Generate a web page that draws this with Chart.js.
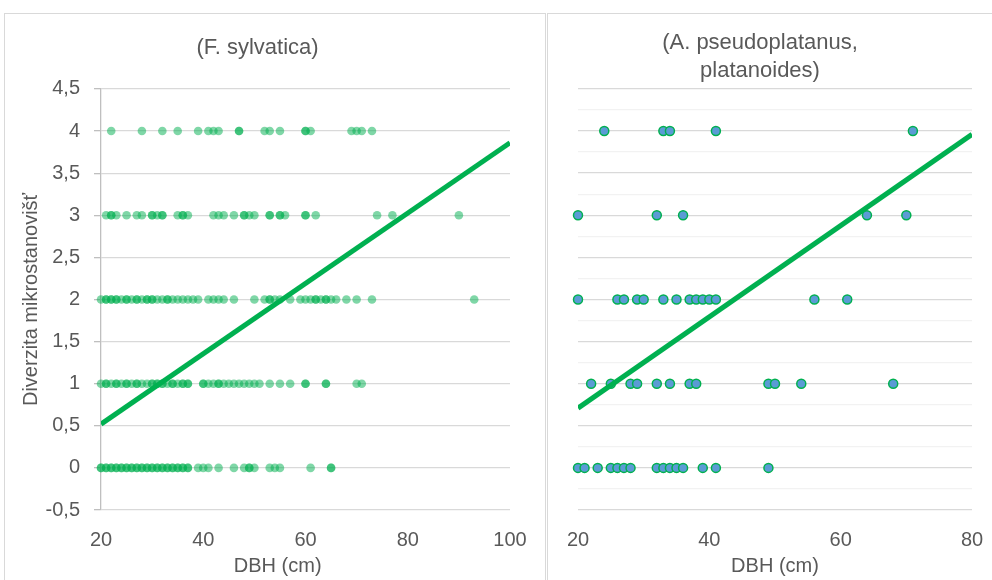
<!DOCTYPE html>
<html>
<head>
<meta charset="utf-8">
<script src="https://cdn.jsdelivr.net/npm/chart.js@4"></script>
<style>
  body { margin: 0; background: #fff; width: 992px; height: 580px; overflow: hidden; position: relative; }
  .panel { position: absolute; border: 1px solid #d9d9d9; box-sizing: border-box; }
  canvas { position: absolute; left: 0; top: 0; }
</style>
</head>
<body>
<div class="panel" style="left:4px;top:13px;width:542px;height:580px;">
  <canvas id="leftChart" width="540" height="566"></canvas>
</div>
<div class="panel" style="left:547px;top:13px;width:460px;height:580px;">
  <canvas id="rightChart" width="444" height="566"></canvas>
</div>
<script>
// F. sylvatica: DBH values per microhabitat diversity level
var beech0 = [20,20,21,21,22,22,23,23,24,24,25,25,26,26,27,27,28,28,29,29,30,30,31,31,32,32,33,33,34,34,35,35,36,36,37,37,39,40,41,43,46,48,49,49,50,53,54,55,61,65,65];
var beech1 = [20,21,21,22,23,23,24,25,25,26,27,27,28,29,30,30,31,31,32,32,33,34,34,35,36,36,37,37,40,40,41,42,43,43,44,45,46,47,48,49,50,51,53,55,57,60,60,64,64,70,71];
var beech2 = [20,21,21,22,22,23,23,24,25,25,26,27,27,28,29,29,30,30,31,32,33,33,34,35,36,37,38,39,41,42,43,44,46,50,52,53,53,54,55,57,59,60,61,62,62,63,64,64,65,66,68,70,73,93];
var beech3 = [21,22,22,23,25,27,28,30,30,31,32,32,35,36,36,37,42,43,44,46,48,48,49,50,53,53,55,55,56,60,60,62,74,77,90];
var beech4 = [22,28,32,35,39,41,42,43,47,47,52,53,55,60,60,61,69,70,71,73];

// A. pseudoplatanus, platanoides
var maple0 = [20,21,23,25,26,27,28,32,33,34,35,36,39,41,49];
var maple1 = [22,25,28,29,32,34,37,38,49,50,54,68];
var maple2 = [20,26,27,29,30,33,35,37,38,39,40,41,56,61];
var maple3 = [20,32,36,64,70];
var maple4 = [24,33,34,41,71];

// trend lines (x ends, y ends)
var beechTrendX = [20, 100];
var beechTrendY = [0.52, 3.86];
var mapleTrendX = [20, 80];
var mapleTrendY = [0.71, 3.96];

var yTicks = [-0.5, 0, 0.5, 1, 1.5, 2, 2.5, 3, 3.5, 4, 4.5];

Chart.defaults.font.family = "'Liberation Sans', Arial, sans-serif";
Chart.defaults.color = '#595959';

function levels(lists) {
    var pts = [];
    lists.forEach(function(list, lvl) {
        list.forEach(function(x) { pts.push({x: x, y: lvl}); });
    });
    return pts;
}
function trend(xs, ys) {
    return xs.map(function(x, i) { return {x: x, y: ys[i]}; });
}
function isMajor(v) { return yTicks.indexOf(v) >= 0; }

function makeChart(id, opts) {
    var ctx = document.getElementById(id);
    return new Chart(ctx, {
        type: 'scatter',
        data: {
            datasets: [{
                type: 'line',
                data: opts.trend,
                borderColor: '#00b050',
                borderWidth: 5,
                pointRadius: 0,
                order: 0
            }, {
                data: opts.points,
                backgroundColor: opts.pointBg,
                borderColor: opts.pointBorder,
                borderWidth: opts.pointBorderWidth,
                pointRadius: opts.radius,
                clip: false,
                order: 1
            }]
        },
        options: {
            responsive: false,
            animation: false,
            layout: { padding: { top: 0, right: opts.padRight, left: 0, bottom: 0 } },
            plugins: {
                legend: { display: false },
                tooltip: { enabled: false },
                title: {
                    display: true,
                    text: opts.title,
                    color: '#595959',
                    font: { size: 22, weight: 'normal', lineHeight: 1.27 },
                    padding: opts.titlePad
                }
            },
            scales: {
                x: {
                    type: 'linear',
                    min: opts.xMin, max: opts.xMax,
                    ticks: { stepSize: 20, font: { size: 20 }, padding: 0, maxRotation: 0 },
                    grid: { display: false, drawTicks: true, tickLength: 18 },
                    border: { display: false },
                    title: { display: true, text: opts.xTitle, font: { size: 20 }, padding: { top: 0, bottom: 2 } },
                    afterFit: function(s) { s.height = 70; }
                },
                y: {
                    min: -0.5, max: 4.5,
                    ticks: {
                        stepSize: 0.25,
                        display: opts.showY,
                        font: { size: 20 },
                        padding: 14,
                        callback: function(v) { return isMajor(v) ? String(v).replace('.', ',') : ''; }
                    },
                    grid: {
                        color: function(c) { return c.tick && isMajor(c.tick.value) ? '#d9d9d9' : '#f2f2f2'; },
                        lineWidth: 1.3,
                        drawTicks: opts.showY,
                        tickLength: 7,
                        tickColor: function(c) { return c.tick && isMajor(c.tick.value) ? '#bfbfbf' : 'rgba(0,0,0,0)'; }
                    },
                    border: { display: opts.showY, color: '#bfbfbf', width: 1.3 },
                    title: { display: opts.showY, text: 'Diverzita mikrostanovišť', font: { size: 20 }, padding: { top: 14, bottom: 0 } },
                    afterFit: function(s) { s.width = opts.yWidth; }
                }
            }
        }
    });
}

makeChart('leftChart', {
    title: '(F. sylvatica)',
    titlePad: { top: 20, bottom: 27 },
    xTitle: 'DBH (cm)\u00a0\u00a0\u00a0\u00a0\u00a0\u00a0\u00a0\u00a0\u00a0\u00a0',
    points: levels([beech0, beech1, beech2, beech3, beech4]),
    trend: trend(beechTrendX, beechTrendY),
    pointBg: 'rgba(0,176,80,0.5)',
    pointBorder: 'rgba(0,0,0,0)',
    pointBorderWidth: 0,
    radius: 4.3,
    xMin: 20, xMax: 100,
    showY: true,
    yWidth: 96,
    padRight: 35
});

makeChart('rightChart', {
    title: ['(A. pseudoplatanus,', 'platanoides)'],
    titlePad: { top: 15, bottom: 4 },
    xTitle: 'DBH (cm)',
    points: levels([maple0, maple1, maple2, maple3, maple4]),
    trend: trend(mapleTrendX, mapleTrendY),
    pointBg: '#5b9bd5',
    pointBorder: '#00b050',
    pointBorderWidth: 1.5,
    radius: 4.5,
    xMin: 20, xMax: 80,
    showY: false,
    yWidth: 30,
    padRight: 20
});
</script>
</body>
</html>
